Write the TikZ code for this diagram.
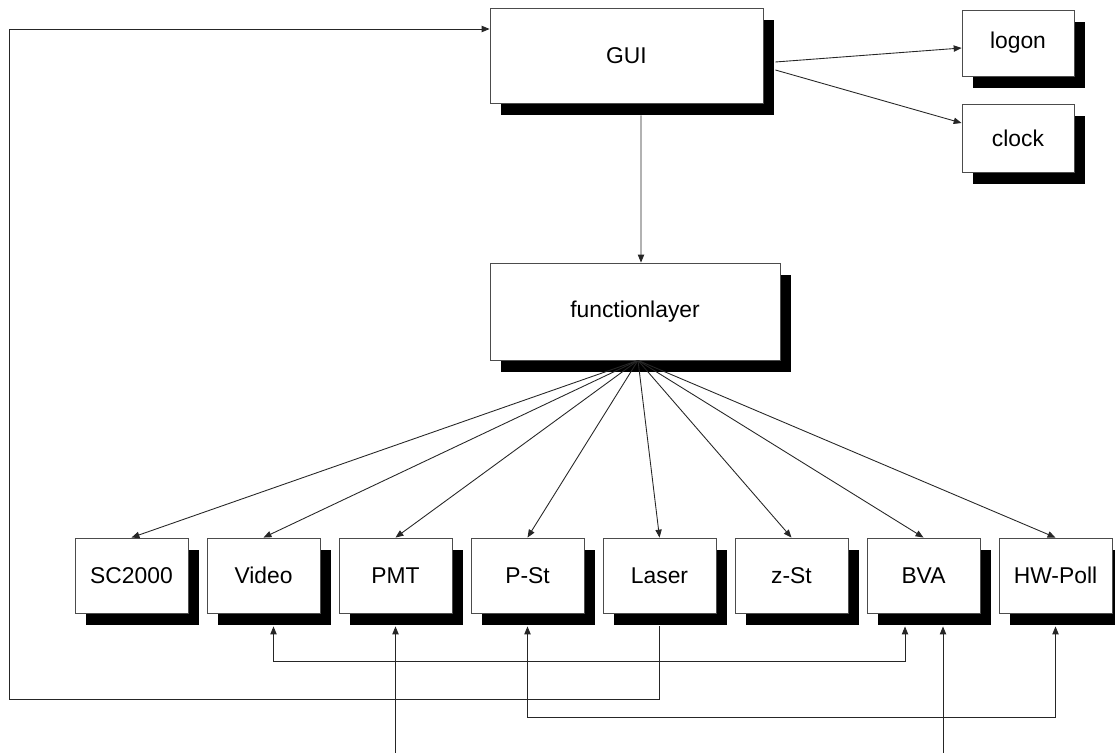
\documentclass[tikz,border=0pt]{standalone}
\usepackage{fontspec}
\setmainfont{Liberation Sans}
\usetikzlibrary{shadows,arrows.meta}

\tikzset{
  box/.style={draw=black!70, line width=0.5pt, fill=white, font=\fontsize{13}{15}\selectfont,
    drop shadow={shadow xshift=0.22cm, shadow yshift=-0.24cm, fill=black, opacity=1}},
  arr/.style={draw=black!85, line width=0.5pt, -{Triangle[length=4.5pt,width=3.6pt]}},
  dbl/.style={draw=black!85, line width=0.5pt, {Triangle[length=4.5pt,width=3.6pt]}-{Triangle[length=4.5pt,width=3.6pt]}}
}

\begin{document}
\begin{tikzpicture}[x=0.02cm, y=-0.02cm]
  \useasboundingbox (0,0) rectangle (1115,753);

  \node[box, minimum width=5.46cm, minimum height=1.9cm] (gui) at (626.5,55.5) {GUI};
  \node[box, minimum width=2.24cm, minimum height=1.32cm] (logon) at (1018,43) {logon};
  \node[box, minimum width=2.24cm, minimum height=1.36cm] (clock) at (1018,138) {clock};
  \node[box, minimum width=5.8cm, minimum height=1.94cm] (fl) at (635,311.5) {functionlayer};

  \foreach \n/\t [count=\i from 0] in {sc/SC2000, video/Video, pmt/PMT, pst/P-St,
      laser/Laser, zst/z-St, bva/BVA, hw/HW-Poll}
    \node[box, minimum width=2.26cm, minimum height=1.5cm] (\n) at ({131.5+132*\i},575.5) {\t};

  \coordinate (hub) at ([xshift=0.06cm]fl.south);
  \coordinate (bot) at (0,753);
  \coordinate (lft) at (9,699);

  \draw[arr] ([xshift=0.24cm,yshift=-0.13cm]gui.east) -- ([yshift=-0.1cm]logon.west);
  \draw[arr] ([xshift=0.24cm,yshift=-0.29cm]gui.east) -- ([yshift=0.3cm]clock.west);
  \draw[arr] ([xshift=0.29cm,yshift=-0.24cm]gui.south) -- ([xshift=0.12cm]fl.north);

  \foreach \n in {sc,video,pmt,pst,laser,zst,bva,hw}
    \draw[arr] (hub) -- (\n.north);

  \draw[arr] ([yshift=-0.26cm]laser.south) |- (lft) |- ([yshift=0.53cm]gui.west);
  \draw[dbl] ([xshift=0.2cm,yshift=-0.26cm]video.south) -- ++(0,-0.7cm) -| ([xshift=-0.37cm,yshift=-0.26cm]bva.south);
  \draw[dbl] ([yshift=-0.26cm]pst.south) -- ++(0,-1.82cm) -| ([yshift=-0.26cm]hw.south);

  \coordinate (bvain) at ([xshift=0.39cm,yshift=-0.26cm]bva.south);
  \draw[arr] (pmt.south |- bot) -- ([yshift=-0.26cm]pmt.south);
  \draw[arr] (bvain |- bot) -- (bvain);
\end{tikzpicture}
\end{document}
